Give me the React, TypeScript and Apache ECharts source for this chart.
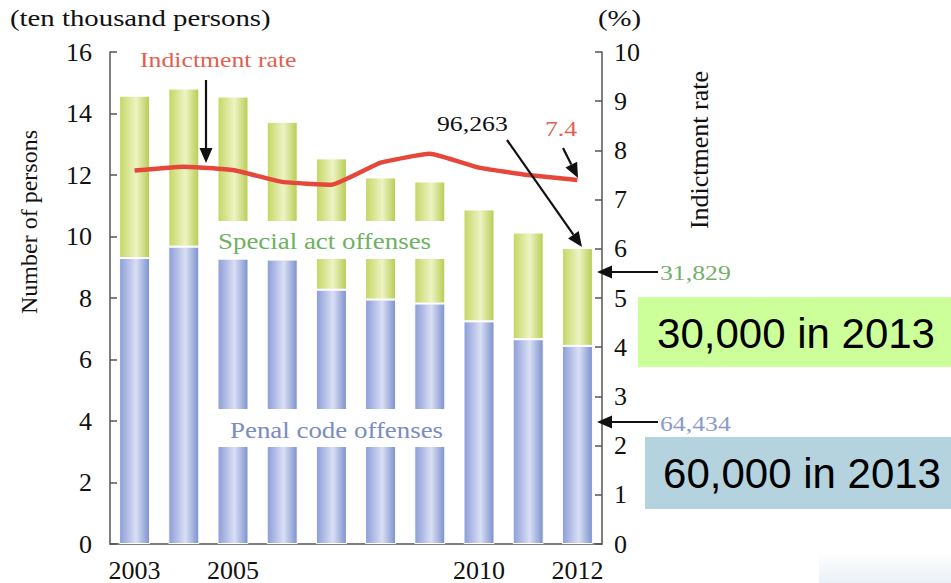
import React, { useEffect, useRef } from "react";
import * as echarts from "echarts";

// Persons proceeded against, in ten thousands, and the indictment rate (%)
const years = ["2003", "2004", "2005", "2006", "2007", "2008", "2009", "2010", "2011", "2012"];
const shownYears = ["2003", "2005", "2010", "2012"];
const penalCode = [9.3, 9.67, 9.28, 9.25, 8.27, 7.95, 7.82, 7.24, 6.66, 6.4434];
const specialAct = [5.28, 5.14, 5.27, 4.48, 4.27, 3.97, 3.97, 3.64, 3.47, 3.1829];
const indictmentRate = [7.59, 7.67, 7.6, 7.36, 7.3, 7.75, 7.93, 7.65, 7.5, 7.4];

const SERIF = "'Liberation Serif', 'Times New Roman', serif";
const SANS = "'Liberation Sans', Arial, sans-serif";

function arrow(x1: number, y1: number, x2: number, y2: number, len = 15, half = 6.5) {
  const dx = x2 - x1;
  const dy = y2 - y1;
  const d = Math.sqrt(dx * dx + dy * dy);
  const ux = dx / d;
  const uy = dy / d;
  const bx = x2 - ux * len;
  const by = y2 - uy * len;
  const px = -uy * half;
  const py = ux * half;
  return [
    {
      type: "line",
      z: 20,
      shape: { x1, y1, x2: bx, y2: by },
      style: { stroke: "#111", lineWidth: 2.2 },
    },
    {
      type: "polygon",
      z: 20,
      shape: { points: [[x2, y2], [bx + px, by + py], [bx - px, by - py]] },
      style: { fill: "#111" },
    },
  ];
}

// serif caption, slightly widened like the printed figure
function text(x: number, y: number, s: string, fill: string, size: number, stretch = 1.17) {
  return {
    type: "text",
    z: 21,
    x,
    y,
    scaleX: stretch,
    style: {
      text: s,
      fill,
      fontFamily: SERIF,
      fontSize: size,
      align: "left",
      verticalAlign: "middle",
    },
  };
}

function vtext(x: number, y: number, s: string, size: number) {
  return {
    type: "text",
    z: 21,
    x,
    y,
    rotation: Math.PI / 2,
    style: {
      text: s,
      fill: "#111",
      fontFamily: SERIF,
      fontSize: size,
      align: "center",
      verticalAlign: "middle",
    },
  };
}

function bigText(x: number, y: number, s: string) {
  return {
    type: "text",
    z: 23,
    x,
    y,
    style: {
      text: s,
      fill: "#000",
      fontFamily: SANS,
      fontSize: 42,
      align: "center",
      verticalAlign: "middle",
    },
  };
}

function barGradient(stops: string[]) {
  return new echarts.graphic.LinearGradient(0, 0, 1, 0, [
    { offset: 0, color: stops[0] },
    { offset: 0.55, color: stops[1] },
    { offset: 1, color: stops[2] },
  ]);
}

export default function App() {
  const ref = useRef<HTMLDivElement>(null);

  useEffect(() => {
    if (!ref.current) return;
    const chart = echarts.init(ref.current, null, { renderer: "svg" });

    const axisLineStyle = { color: "#555", width: 1.5 };

    chart.setOption({
      animation: false,
      backgroundColor: "#fff",
      grid: { left: 110, right: 349, top: 52, bottom: 38 },
      xAxis: {
        type: "category",
        data: years,
        axisLine: { lineStyle: axisLineStyle },
        axisTick: { show: false },
        axisLabel: {
          interval: 0,
          margin: 13,
          color: "#111",
          fontFamily: SERIF,
          fontSize: 26,
          formatter: (v: string) => (shownYears.includes(v) ? v : ""),
        },
      },
      yAxis: [
        {
          type: "value",
          min: 0,
          max: 16,
          interval: 2,
          axisLine: { show: true, lineStyle: axisLineStyle },
          axisTick: { show: true, inside: true, length: 7, lineStyle: axisLineStyle },
          splitLine: { show: false },
          axisLabel: { color: "#111", fontFamily: SERIF, fontSize: 26, margin: 18 },
        },
        {
          type: "value",
          min: 0,
          max: 10,
          interval: 1,
          position: "right",
          axisLine: { show: true, lineStyle: axisLineStyle },
          axisTick: { show: true, inside: true, length: 7, lineStyle: axisLineStyle },
          splitLine: { show: false },
          axisLabel: { color: "#111", fontFamily: SERIF, fontSize: 26, margin: 12 },
        },
      ],
      series: [
        {
          name: "Penal code offenses",
          type: "bar",
          stack: "total",
          barWidth: 31,
          data: penalCode,
          itemStyle: {
            color: barGradient(["#8c9dd8", "#d9dff4", "#7b90cd"]),
            borderColor: "#fff",
            borderWidth: 1,
          },
        },
        {
          name: "Special act offenses",
          type: "bar",
          stack: "total",
          barWidth: 31,
          data: specialAct,
          itemStyle: {
            color: barGradient(["#c4d762", "#eef3c4", "#b6cd52"]),
            borderColor: "#fff",
            borderWidth: 1,
          },
        },
        {
          name: "Indictment rate",
          type: "line",
          yAxisIndex: 1,
          z: 5,
          data: indictmentRate,
          symbol: "none",
          smooth: 0.12,
          lineStyle: { color: "#e5483a", width: 4.5, join: "round" },
        },
      ],
      graphic: [
        // axis captions
        text(10, 18, "(ten thousand persons)", "#111", 24, 1.2),
        text(598, 18, "(%)", "#111", 24, 1.2),
        vtext(29, 222, "Number of persons", 24),
        vtext(699, 150, "Indictment rate", 26),
        // white panels behind the series names inside the bars
        { type: "rect", z: 15, shape: { x: 212, y: 221, width: 240, height: 38 }, style: { fill: "#fff" } },
        { type: "rect", z: 15, shape: { x: 212, y: 409, width: 240, height: 38 }, style: { fill: "#fff" } },
        text(218, 241, "Special act offenses", "#6db260", 23),
        text(230, 430, "Penal code offenses", "#7b8cc2", 23),
        // line label and callouts
        text(140, 60, "Indictment rate", "#e25f50", 22),
        ...arrow(206, 80, 206, 163),
        text(437, 124, "96,263", "#111", 22),
        ...arrow(507, 140, 582, 247),
        text(545, 129, "7.4", "#e25f50", 22),
        ...arrow(563, 148, 578, 178),
        ...arrow(658, 272, 597, 272),
        text(660, 273, "31,829", "#72b06a", 22),
        ...arrow(658, 422, 597, 422),
        text(660, 424, "64,434", "#8a9bcb", 22),
        // 2013 outlook boxes
        { type: "rect", z: 22, shape: { x: 638, y: 297, width: 313, height: 70 }, style: { fill: "#ccff99" } },
        bigText(796, 333, "30,000 in 2013"),
        { type: "rect", z: 22, shape: { x: 645, y: 437, width: 306, height: 72 }, style: { fill: "#b4d3de" } },
        bigText(802, 473, "60,000 in 2013"),
        {
          type: "rect",
          z: 22,
          shape: { x: 819, y: 552, width: 132, height: 31 },
          style: {
            fill: new echarts.graphic.LinearGradient(0, 0, 0, 1, [
              { offset: 0, color: "#ffffff" },
              { offset: 1, color: "#eaf0f5" },
            ]),
          },
        },
      ],
    });

    return () => chart.dispose();
  }, []);

  return (
    <div
      ref={ref}
      style={{ width: 951, height: 583, position: "absolute", left: 0, top: 0 }}
    />
  );
}
